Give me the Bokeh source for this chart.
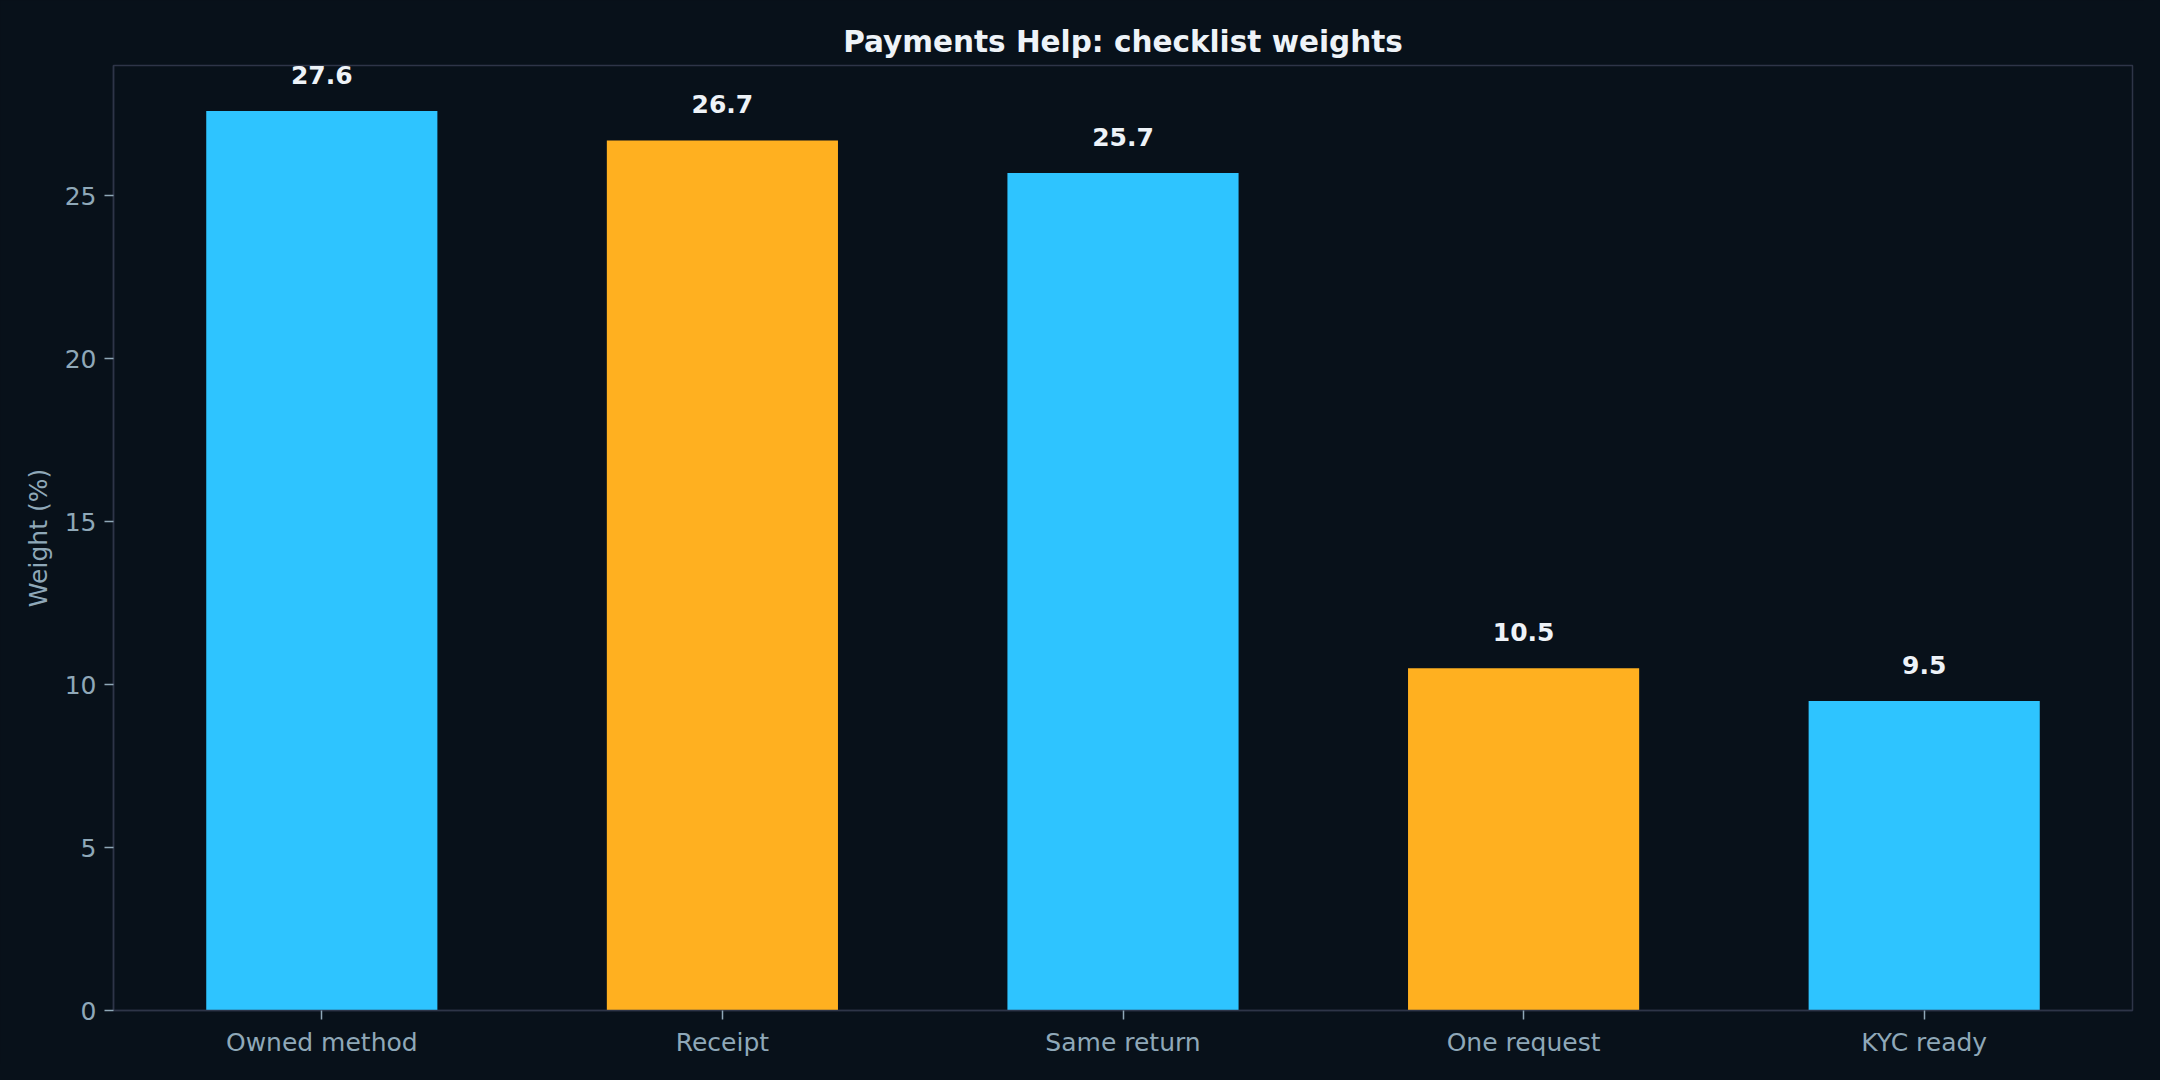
from bokeh.plotting import figure
from bokeh.models import ColumnDataSource, FactorRange, Range1d, FixedTicker
from bokeh.core.properties import value
from bokeh.embed import file_html
from bokeh.resources import INLINE

categories = ["Owned method", "Receipt", "Same return", "One request", "KYC ready"]
weights = [27.6, 26.7, 25.7, 10.5, 9.5]
bar_colors = ["#2EC4FF", "#FFB020", "#2EC4FF", "#FFB020", "#2EC4FF"]
y_ticks = [0, 5, 10, 15, 20, 25]
title_text = "Payments Help: checklist weights"
y_label = "Weight (%)"

BG = "#08111A"
GRID = "#2E3548"
TICK = "#8FA8B8"
WHITE = "#EEF3F8"

labels = [f"{v:.1f}" for v in weights]
src = ColumnDataSource(dict(cat=categories, w=weights, color=bar_colors, lab=labels))

p = figure(
    x_range=FactorRange(*categories, range_padding=0.02, range_padding_units="absolute"),
    y_range=Range1d(0, 29.0),
    frame_width=2019, frame_height=945,
    min_border_left=113, min_border_right=12, min_border_top=65, min_border_bottom=54,
    output_backend="svg", toolbar_location=None,
    background_fill_color=BG, border_fill_color=BG,
)

p.vbar(x="cat", top="w", width=0.577, color="color", line_color=None, source=src)
p.text(x="cat", y="w", text="lab", source=src, text_align="center", text_baseline="middle",
       y_offset=-36, text_font_size="25px", text_font_style="bold", text_color=WHITE,
       text_font=value("DejaVu Sans"))

p.title.text = title_text
p.title.align = "center"
p.title.text_font = "DejaVu Sans"
p.title.text_font_size = "29.5px"
p.title.text_font_style = "bold"
p.title.text_color = WHITE
p.title.standoff = 14

p.grid.visible = False
p.outline_line_color = GRID
p.outline_line_width = 1.5

for ax in (p.xaxis[0], p.yaxis[0]):
    ax.axis_line_color = GRID
    ax.axis_line_width = 1.5
    ax.major_tick_line_color = TICK
    ax.major_tick_line_width = 1.5
    ax.major_tick_out = 9
    ax.major_tick_in = 0
    ax.minor_tick_line_color = None
    ax.major_label_text_color = TICK
    ax.major_label_text_font = "DejaVu Sans"
    ax.major_label_text_font_size = "25px"
    ax.major_label_standoff = 8

p.yaxis.ticker = FixedTicker(ticks=y_ticks)
p.yaxis.axis_label = y_label
p.yaxis.axis_label_text_font = "DejaVu Sans"
p.yaxis.axis_label_text_font_size = "25px"
p.yaxis.axis_label_text_font_style = "normal"
p.yaxis.axis_label_text_color = TICK
p.yaxis.axis_label_standoff = 9

html = file_html(p, INLINE, title="Payments Help: checklist weights")
html = html.replace("</head>", "<style>html,body{background:%s;}</style></head>" % BG, 1)
open("out.html", "w").write(html)
